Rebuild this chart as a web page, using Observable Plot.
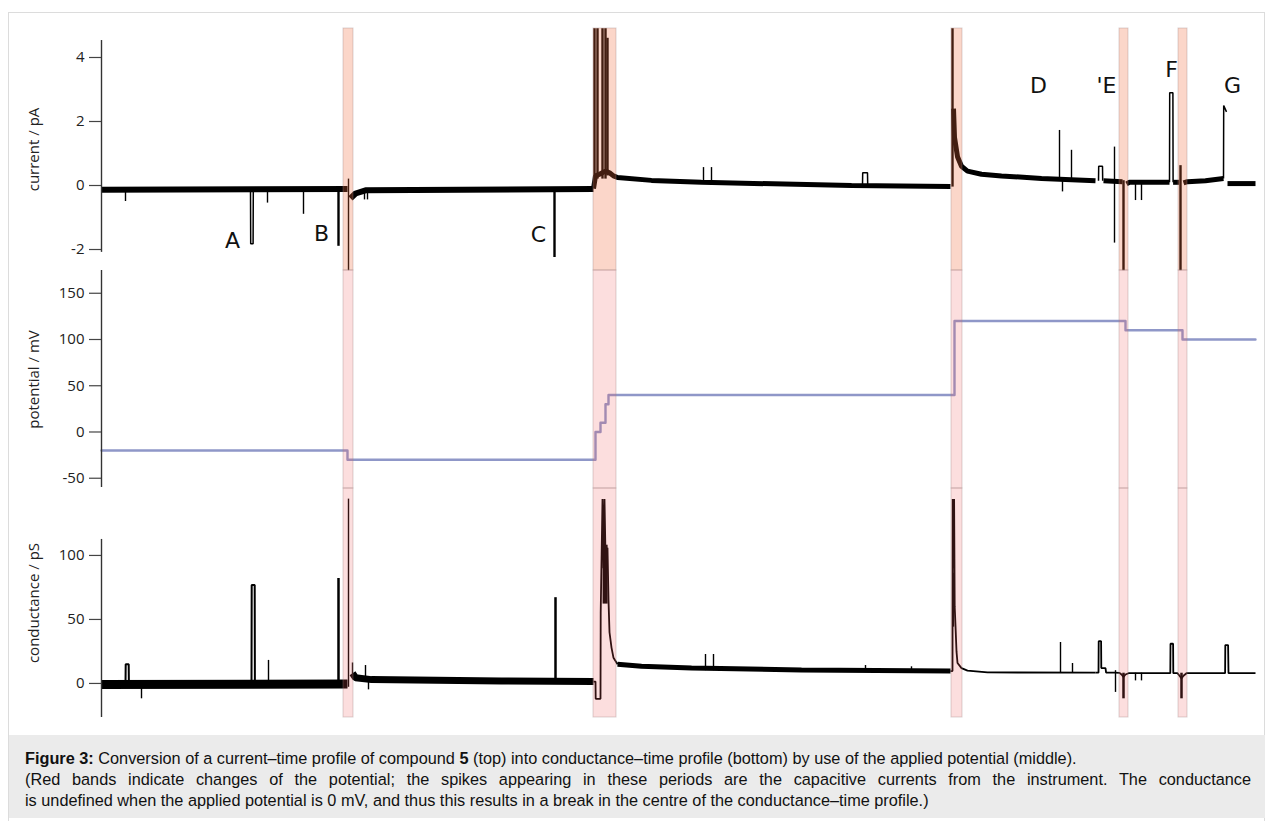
<!DOCTYPE html>
<html><head><meta charset="utf-8">
<script src="https://cdn.jsdelivr.net/npm/d3@7"></script>
<script src="https://cdn.jsdelivr.net/npm/@observablehq/plot@0.6"></script>
<style>
body{margin:0;background:#fff;width:1265px;height:821px;overflow:hidden;position:relative;font-family:"Open Sans",sans-serif}
#frame{position:absolute;left:8px;top:12px;width:1257px;height:820px;border:1px solid #dcdcdc;box-sizing:border-box}
.panel{position:absolute;left:0}
#caption{position:absolute;left:9px;top:735px;width:1256px;height:83px;background:#ebebeb;font-family:"Liberation Sans",Arial,sans-serif;font-size:16.3px;line-height:21px;color:#111;padding:13px 0 0 16px;box-sizing:border-box}
#caption div{width:1226px;white-space:nowrap}
#caption .just{white-space:normal;text-align:justify;text-align-last:justify}
</style></head><body>
<div id="frame"></div>
<div id="top" class="panel" style="top:0"></div>
<div id="mid" class="panel" style="top:270px"></div>
<div id="bot" class="panel" style="top:488px"></div>
<div id="caption"><div><b>Figure 3:</b> Conversion of a current–time profile of compound <b>5</b> (top) into conductance–time profile (bottom) by use of the applied potential (middle).</div><div class="just">(Red bands indicate changes of the potential; the spikes appearing in these periods are the capacitive currents from the instrument. The conductance</div><div>is undefined when the applied potential is 0 mV, and thus this results in a break in the centre of the conductance–time profile.)</div></div>
<script>
// ---- time axis (arbitrary units) ----
const timeDomain = [0, 577];

// ---- red bands (changes of potential) ----
const bandStart = [121, 246, 425, 509, 538.5];
const bandEnd   = [126, 257.5, 430.5, 513.5, 543];

// ---- current (pA) ----
const currentNoisy = [ // noisy stretches [t, pA]
  [[0,-0.13],[123,-0.11]],
  [[124.5,-0.4],[127,-0.25],[132,-0.15],[246,-0.11]],
  [[246,-0.1],[247,0.3],[249,0.35],[252,0.45],[254,0.4],[256,0.3],[258,0.25],[275,0.16],[300,0.1],[375,0.0],[424.5,-0.03]],
  [[426,2.4],[426.5,1.5],[428,0.9],[430,0.6],[433,0.45],[440,0.35],[450,0.3],[470,0.22],[497,0.15]],
  [[501,0.15],[510.5,0.12]],
  [[512.5,0.05],[514,0.1],[534,0.1]],
  [[535.8,0.1],[538.8,0.1]],
  [[541,0.08],[543,0.12],[552,0.15],[561,0.22]],
  [[563,0.06],[577,0.06]]
];
const currentPulses = [
  [[74.5,-0.12],[74.6,-1.82],[75.8,-1.82],[75.9,-0.12]],
  [[380.5,0.02],[380.6,0.4],[383,0.4],[383.1,0.02]],
  [[498.5,0.15],[498.6,0.6],[500.5,0.6],[500.6,0.15]],
  [[534,0.1],[534.1,2.9],[535.7,2.9],[535.8,0.1]],
  [[561,0.22],[561.1,2.5],[562.5,2.3]]
];
const currentSpikeT    = [12, 83, 101, 123.5, 131.5, 133, 301, 305, 479, 480.5, 485, 506.5, 517, 520];
const currentSpikeLow  = [-0.5, -0.55, -0.9, -2.66, -0.45, -0.45, 0.1, 0.1, 0.15, -0.2, 0.15, -1.8, -0.47, -0.47];
const currentSpikeHigh = [-0.13, -0.13, -0.13, 0.2, -0.2, -0.2, 0.56, 0.56, 1.72, 0.15, 1.1, 1.2, 0.1, 0.1];
const currentBigT    = [118.5, 226.5, 246.5, 248, 250.5, 252, 253, 425.5, 511, 539.5];
const currentBigLow  = [-1.9, -2.25, 0.2, 0.2, 0.2, 0.2, 0.3, -0.05, -2.66, -2.66];
const currentBigHigh = [-0.12, -0.1, 4.9, 4.9, 4.9, 4.9, 4.6, 4.9, 0.15, 0.62];
const letterText = ["A", "B", "C", "D", "'E", "F", "G"];
const letterT    = [65.5, 110, 218.5, 468.5, 502.5, 535, 565.5];
const letterV    = [-1.72, -1.5, -1.56, 3.12, 3.1, 3.62, 3.12];

// ---- potential (mV) ----
const potentialT = [0, 123, 247, 249.5, 252, 253.5, 426.5, 512, 540.5, 577];
const potentialV = [-20, -30, 0, 10, 30, 40, 120, 110, 100, 100];

// ---- conductance (pS) ----
const conductanceNoisy = [
  [[0,-0.8],[123,-0.5]],
  [[125.5,8],[127,4.5],[135,3],[200,2],[246,1.5]],
  [[258,15],[270,13.5],[295,12],[350,10.5],[424.5,9.7]]
];
const conductanceThin = [
  [[246,1.5],[247,1.5],[247.1,-12],[249.5,-12],[249.6,55],[250.5,144],[251,90],[251.5,144],[252,100],[253,106],[253.5,65],[254,40],[255,28],[256,20],[258,15]],
  [[424.5,9.7],[425.5,9.7],[425.6,144],[426,90],[426.3,144],[426.6,60],[427,45],[427.5,25],[428,16],[430,12],[433,10],[443,8.6],[497,8.4]],
  [[497,8.4],[498.5,8.4],[498.6,33],[499.8,33],[499.9,12],[502,12],[502.3,8.5],[506.5,8.5],[509,8.3],[510,7],[511,5],[512,7],[513.5,8],[534.4,8],[534.5,31],[535.8,31],[535.9,8],[538,8],[539,6],[540,4],[541,6],[542.5,8],[561.8,8],[561.9,30],[563.3,30],[563.5,8],[577,8]]
];
const conductancePulses = [
  [[12,-0.5],[12.1,15],[13.6,15],[13.7,-0.5]],
  [[75,-0.5],[75.1,77],[76.6,77],[76.7,-0.5]]
];
const conductanceBlock = [[250.8, 253.3, 62, 108], [426, 426.6, 44, 86]];
const conductanceSpikeT    = [20, 83.5, 123.5, 125.5, 132, 133.5, 302, 306, 382, 405, 479.5, 485.5, 507, 517, 520];
const conductanceSpikeLow  = [-12, -0.5, -3, 5, 2, -5, 10, 10, 10, 10, 8, 8, -7, 2, 2];
const conductanceSpikeHigh = [-0.5, 18, 144, 16, 14, 2, 22.6, 22.6, 14, 13, 32, 15.6, 10, 8, 8];
const conductanceBigT    = [118.5, 227, 511, 540];
const conductanceBigLow  = [-0.5, 1.5, -12, -12];
const conductanceBigHigh = [82, 67, 8, 8];

// ---- helpers ----
const flat = segs => segs.flatMap((s, i) => s.map(([t, v]) => ({t, v, s: i})));
const idx = a => d3.range(a.length);
const W = 1265, ML = 101, MR = 10;
const style = {background: "transparent", overflow: "visible", fontFamily: "'Open Sans', sans-serif", color: "#222"};
const bands = (fill, op) => Plot.rect(idx(bandStart), {x1: i => bandStart[i], x2: i => bandEnd[i], fill, fillOpacity: op, stroke: "#9a8080", strokeOpacity: 0.35, strokeWidth: 1});
const axis = (ticks, label) => Plot.axisY(ticks, {tickSize: 12, tickPadding: 5, tickFormat: d => String(d), fontSize: 15, label, labelAnchor: "center", labelOffset: 73, labelArrow: "none", stroke: "#444", strokeWidth: 1.2});
const axisLine = (lo, hi) => Plot.ruleX([0], {y1: lo, y2: hi, stroke: "#333", strokeWidth: 1.4});
const rules = (T, L, H, w) => Plot.ruleX(idx(T), {x: i => T[i], y1: i => L[i], y2: i => H[i], stroke: "#000", strokeWidth: w});
const lines = (segs, w) => Plot.line(flat(segs), {x: "t", y: "v", z: "s", stroke: "#000", strokeWidth: w, strokeLinecap: "butt", strokeLinejoin: "miter"});

// ---- top: current ----
document.getElementById("top").append(Plot.plot({
  width: W, height: 270, marginLeft: ML, marginRight: MR, marginTop: 28, marginBottom: 0, style,
  x: {domain: timeDomain, axis: null},
  y: {domain: [-2.656, 4.906], axis: null},
  marks: [
    lines(currentNoisy.slice(0, 2), 6),
    lines(currentNoisy.slice(2), 5),
    lines(currentPulses, 1.5),
    rules(currentSpikeT, currentSpikeLow, currentSpikeHigh, 1.4),
    rules(currentBigT, currentBigLow, currentBigHigh, 2.4),
    bands("#f06a3c", 0.28),
    Plot.text(idx(letterText), {x: i => letterT[i], y: i => letterV[i], text: i => letterText[i], fontSize: 22, fontFamily: "DejaVu Sans", fill: "#111"}),
    axisLine(-2.09, 4.53),
    axis([4, 2, 0, -2], "current / pA")
  ]
}));

// ---- middle: potential ----
document.getElementById("mid").append(Plot.plot({
  width: W, height: 218, marginLeft: ML, marginRight: MR, marginTop: 0, marginBottom: 0, style,
  x: {domain: timeDomain, axis: null},
  y: {domain: [-61.1, 174.6], axis: null},
  marks: [
    Plot.line(idx(potentialT), {x: i => potentialT[i], y: i => potentialV[i], curve: "step-after", stroke: "#8f97c8", strokeWidth: 2.4}),
    bands("#f25a5a", 0.2),
    axisLine(-60, 174.6),
    axis([150, 100, 50, 0, -50], "potential / mV")
  ]
}));

// ---- bottom: conductance ----
document.getElementById("bot").append(Plot.plot({
  width: W, height: 229, marginLeft: ML, marginRight: MR, marginTop: 0, marginBottom: 0, style,
  x: {domain: timeDomain, axis: null},
  y: {domain: [-26.6, 152.3], axis: null},
  marks: [
    lines(conductanceNoisy.slice(0, 1), 9),
    lines(conductanceNoisy.slice(1, 2), 7),
    lines(conductanceNoisy.slice(2), 5),
    lines(conductanceThin, 1.8),
    lines(conductancePulses, 2),
    Plot.rect(conductanceBlock, {x1: d => d[0], x2: d => d[1], y1: d => d[2], y2: d => d[3], fill: "#000"}),
    rules(conductanceSpikeT, conductanceSpikeLow, conductanceSpikeHigh, 1.4),
    rules(conductanceBigT, conductanceBigLow, conductanceBigHigh, 2.5),
    bands("#f25a5a", 0.2),
    axisLine(-26.6, 112.5),
    axis([100, 50, 0], "conductance / pS")
  ]
}));
</script>
</body></html>
